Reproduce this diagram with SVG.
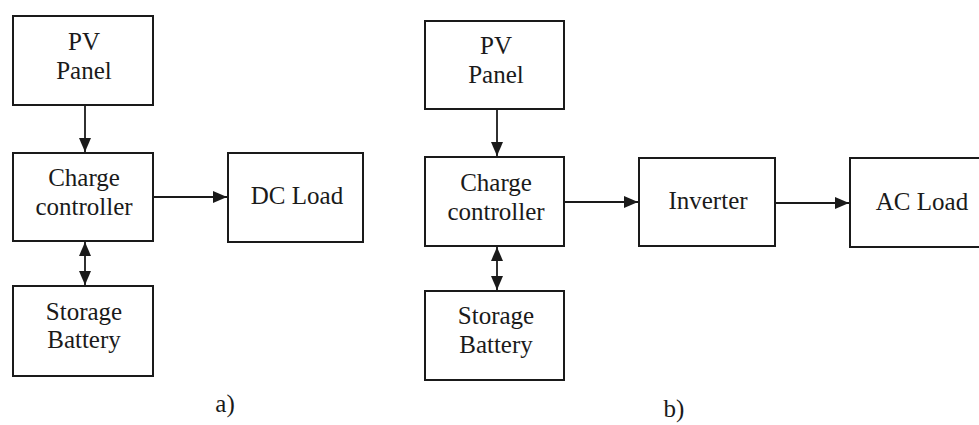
<svg xmlns="http://www.w3.org/2000/svg" width="979" height="425" viewBox="0 0 979 425">
<defs>
<style>
.box{fill:#fff;stroke:#1a1a1a;stroke-width:2}
.lbl{font-family:"Liberation Serif","Times New Roman",serif;font-size:25px;fill:#1a1a1a;text-anchor:middle}
.conn{stroke:#1a1a1a;stroke-width:1.8;fill:none}
</style>
<marker id="ah" viewBox="0 0 14 12" refX="14" refY="6" markerWidth="14" markerHeight="12" markerUnits="userSpaceOnUse" orient="auto-start-reverse">
<path d="M0,0 L14,6 L0,12 z" fill="#1a1a1a"/>
</marker>
</defs>
<rect width="979" height="425" fill="#fff"/>
<g id="connectors">
<line class="conn" x1="85" y1="105" x2="85" y2="152" marker-end="url(#ah)"/>
<line class="conn" x1="85" y1="242" x2="85" y2="285" marker-start="url(#ah)" marker-end="url(#ah)"/>
<line class="conn" x1="153" y1="197" x2="227" y2="197" marker-end="url(#ah)"/>
<line class="conn" x1="497" y1="109" x2="497" y2="156" marker-end="url(#ah)"/>
<line class="conn" x1="497" y1="247" x2="497" y2="290" marker-start="url(#ah)" marker-end="url(#ah)"/>
<line class="conn" x1="564" y1="202" x2="638" y2="202" marker-end="url(#ah)"/>
<line class="conn" x1="775" y1="203" x2="849" y2="203" marker-end="url(#ah)"/>
</g>
<g id="a-pv"><rect class="box" x="13" y="16" width="140" height="89"/><text class="lbl" x="84" y="50">PV</text><text class="lbl" x="84" y="79">Panel</text></g>
<g id="a-cc"><rect class="box" x="13" y="153" width="140" height="88"/><text class="lbl" x="84" y="186">Charge</text><text class="lbl" x="84" y="215">controller</text></g>
<g id="a-sb"><rect class="box" x="13" y="286" width="140" height="90"/><text class="lbl" x="84" y="320">Storage</text><text class="lbl" x="84" y="348">Battery</text></g>
<g id="a-dc"><rect class="box" x="228" y="153" width="135" height="89"/><text class="lbl" x="297" y="204">DC Load</text></g>
<g id="b-pv"><rect class="box" x="425" y="21" width="139" height="88"/><text class="lbl" x="496" y="54">PV</text><text class="lbl" x="496" y="83">Panel</text></g>
<g id="b-cc"><rect class="box" x="425" y="157" width="139" height="89"/><text class="lbl" x="496" y="191">Charge</text><text class="lbl" x="496" y="220">controller</text></g>
<g id="b-sb"><rect class="box" x="425" y="291" width="139" height="89"/><text class="lbl" x="496" y="324">Storage</text><text class="lbl" x="496" y="353">Battery</text></g>
<g id="b-inv"><rect class="box" x="639" y="158" width="136" height="88"/><text class="lbl" x="708" y="209">Inverter</text></g>
<g id="b-ac"><rect class="box" x="850" y="158" width="140" height="89"/><text class="lbl" x="922" y="210">AC Load</text></g>
<g id="captions"><text class="lbl" x="225" y="412">a)</text><text class="lbl" x="674" y="417">b)</text></g>
</svg>
